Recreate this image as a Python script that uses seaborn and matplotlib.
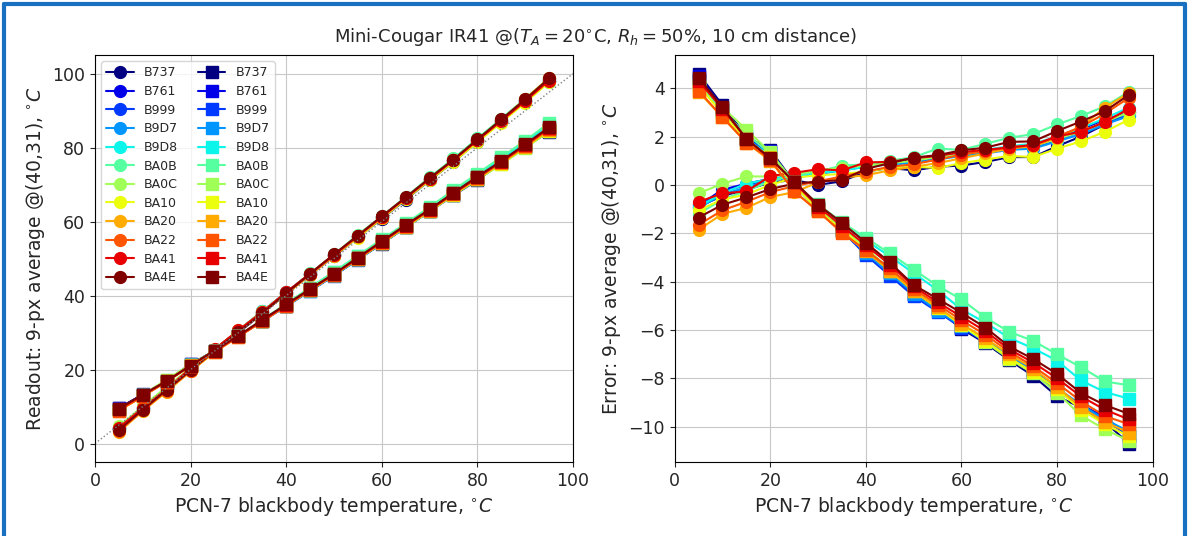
import matplotlib

matplotlib.use("Agg")
import matplotlib.pyplot as plt
import numpy as np
import pandas as pd
import seaborn as sns
from matplotlib.lines import Line2D

temps = [5, 10, 15, 20, 25, 30, 35, 40, 45, 50, 55, 60, 65, 70, 75, 80, 85, 90, 95]
sensors = ["B737", "B761", "B999", "B9D7", "B9D8", "BA0B",
           "BA0C", "BA10", "BA20", "BA22", "BA41", "BA4E"]

# error of the circle-marker series (readout - blackbody)
err_a = {
    "B737": [-0.9, -0.45, -0.2, 0.1, 0.2, 0.0, 0.15, 0.55, 0.7, 0.6, 0.75, 0.8, 0.95, 1.15, 1.15, 1.6, 2.0, 2.5, 3.0],
    "B761": [-0.85, -0.2, 0.05, 0.25, 0.4, 0.55, 0.75, 0.85, 0.95, 1.0, 1.15, 1.3, 1.4, 1.55, 1.6, 2.0, 2.3, 2.7, 3.0],
    "B999": [-0.8, -0.3, 0.0, 0.2, 0.35, 0.45, 0.65, 0.8, 0.9, 0.95, 1.1, 1.25, 1.35, 1.5, 1.55, 1.85, 2.2, 2.6, 2.9],
    "B9D7": [-0.95, -0.4, -0.1, 0.2, 0.3, 0.45, 0.6, 0.75, 0.85, 0.9, 1.05, 1.2, 1.3, 1.45, 1.5, 1.8, 2.1, 2.5, 2.85],
    "B9D8": [-0.9, -0.35, 0.05, 0.25, 0.35, 0.5, 0.6, 0.75, 0.9, 1.0, 1.2, 1.3, 1.45, 1.6, 1.7, 2.0, 2.35, 2.75, 3.2],
    "BA0B": [-1.2, -0.6, -0.25, 0.15, 0.4, 0.55, 0.8, 0.85, 1.0, 1.15, 1.5, 1.45, 1.7, 1.95, 2.1, 2.5, 2.85, 3.25, 3.85],
    "BA0C": [-0.35, 0.05, 0.35, 0.35, 0.45, 0.6, 0.7, 0.8, 0.9, 1.0, 1.15, 1.25, 1.4, 1.55, 1.6, 1.9, 2.2, 2.6, 3.0],
    "BA10": [-1.05, -0.6, -0.4, 0.0, 0.3, 0.4, 0.45, 0.55, 0.7, 0.75, 0.7, 0.9, 1.05, 1.2, 1.15, 1.5, 1.8, 2.2, 2.7],
    "BA20": [-1.85, -1.2, -0.95, -0.5, -0.3, 0.1, 0.3, 0.4, 0.6, 0.75, 0.9, 1.1, 1.3, 1.5, 1.6, 1.95, 2.4, 3.2, 3.8],
    "BA22": [-1.65, -1.05, -0.7, -0.3, -0.05, 0.15, 0.35, 0.55, 0.75, 0.85, 1.05, 1.25, 1.4, 1.55, 1.65, 2.0, 2.4, 2.95, 3.6],
    "BA41": [-0.7, -0.35, -0.27, 0.37, 0.5, 0.65, 0.6, 0.93, 0.95, 1.1, 1.2, 1.35, 1.45, 1.55, 1.65, 2.0, 2.2, 2.6, 3.15],
    "BA4E": [-1.35, -0.82, -0.52, -0.17, 0.05, 0.14, 0.2, 0.66, 0.9, 1.13, 1.23, 1.43, 1.54, 1.78, 1.8, 2.23, 2.62, 3.05, 3.72],
}

# error of the square-marker series
err_b = {
    "B737": [4.6, 3.3, 2.0, 1.45, 0.1, -0.95, -1.85, -2.75, -3.6, -4.5, -5.15, -5.95, -6.55, -7.25, -7.9, -8.75, -9.2, -9.8, -10.7],
    "B761": [4.5, 3.2, 1.95, 1.4, 0.05, -1.0, -1.85, -2.8, -3.6, -4.55, -5.15, -5.9, -6.4, -7.1, -7.75, -8.5, -9.1, -9.6, -10.4],
    "B999": [4.4, 3.1, 1.9, 1.3, 0.05, -1.0, -1.9, -2.9, -3.75, -4.6, -5.25, -5.9, -6.5, -7.15, -7.7, -8.5, -9.15, -9.7, -10.4],
    "B9D7": [4.3, 3.0, 1.85, 1.2, 0.0, -1.05, -1.85, -2.8, -3.65, -4.5, -5.2, -5.85, -6.45, -7.05, -7.65, -8.4, -9.1, -9.7, -10.2],
    "B9D8": [4.2, 3.0, 1.9, 1.2, 0.05, -0.9, -1.65, -2.3, -2.95, -3.65, -4.35, -5.15, -5.7, -6.33, -6.76, -7.27, -8.09, -8.57, -8.84],
    "BA0B": [4.1, 3.05, 2.1, 1.3, 0.1, -0.8, -1.55, -2.19, -2.83, -3.51, -4.17, -4.74, -5.49, -6.08, -6.45, -7.01, -7.54, -8.13, -8.29],
    "BA0C": [4.2, 3.2, 2.29, 1.35, 0.1, -0.95, -1.75, -2.6, -3.5, -4.35, -5.05, -5.8, -6.5, -7.2, -7.8, -8.6, -9.54, -10.11, -10.59],
    "BA10": [4.1, 2.95, 1.85, 1.15, 0.0, -1.05, -1.85, -2.7, -3.55, -4.4, -5.1, -5.8, -6.45, -7.15, -7.75, -8.45, -9.3, -9.9, -10.4],
    "BA20": [3.85, 2.8, 1.75, 1.0, -0.25, -1.1, -1.95, -2.75, -3.55, -4.4, -5.05, -5.75, -6.35, -7.0, -7.6, -8.35, -9.2, -9.8, -10.25],
    "BA22": [3.9, 2.8, 1.75, 1.05, -0.27, -1.09, -1.98, -2.7, -3.45, -4.3, -4.95, -5.6, -6.2, -6.9, -7.5, -8.2, -8.95, -9.56, -9.9],
    "BA41": [4.3, 3.15, 1.9, 1.1, 0.1, -0.9, -1.7, -2.5, -3.3, -4.2, -4.85, -5.45, -6.05, -6.8, -7.35, -8.0, -8.75, -9.3, -9.7],
    "BA4E": [4.44, 3.21, 1.91, 1.1, 0.14, -0.82, -1.57, -2.39, -3.21, -4.14, -4.71, -5.29, -5.9, -6.69, -7.2, -7.82, -8.61, -9.11, -9.47],
}


def main():
    sns.set_style("ticks", {"axes.grid": True, "grid.color": "#c8c8c8",
                            "axes.edgecolor": "black"})
    plt.rcParams["font.family"] = ["DejaVu Sans"]
    plt.rcParams["font.size"] = 12

    colors = plt.cm.jet(np.linspace(0, 1, len(sensors)))
    t = np.array(temps)

    fig = plt.figure(figsize=(11.92, 5.36), dpi=100)
    ax1 = fig.add_axes([0.0797, 0.138, 0.401, 0.759])
    ax2 = fig.add_axes([0.566, 0.138, 0.401, 0.759])

    for marker, errs in (("o", err_a), ("s", err_b)):
        for name, c in zip(sensors, colors):
            e = np.array(errs[name])
            df = pd.DataFrame({"T": t, "readout": t + e, "err": e})
            kw = dict(marker=marker, markersize=8.5, color=c, mec=c, mew=1,
                      linewidth=1.5, estimator=None)
            sns.lineplot(data=df, x="T", y="readout", ax=ax1, label=name, **kw)
            sns.lineplot(data=df, x="T", y="err", ax=ax2, legend=False, **kw)

    ax1.plot([0, 100], [0, 100], ":", color="gray", linewidth=1)

    for ax in (ax1, ax2):
        ax.set_xlim(0, 100)
        ax.set_xlabel(r"PCN-7 blackbody temperature, $^{\circ}C$", fontsize=13.5)
        ax.tick_params(labelsize=12.5)
        for s in ax.spines.values():
            s.set_visible(True)
            s.set_color("black")

    ax1.set_ylabel(r"Readout: 9-px average @(40,31), $^{\circ}C$", fontsize=13.5)
    ax2.set_ylabel(r"Error: 9-px average @(40,31), $^{\circ}C$", fontsize=13.5)
    ax1.legend(ncol=2, fontsize=9, loc="upper left", framealpha=0.8,
               columnspacing=1.6, handlelength=2.2, labelspacing=0.45)

    fig.suptitle(r"Mini-Cougar IR41 @($T_A = 20^{\circ}$C, $R_h = 50\%$, 10 cm distance)",
                 fontsize=13, y=0.952)

    blue = "#1a70c0"
    xl, xr, yt = 4 / 1192, 1185 / 1192, 1 - 4 / 536
    for xs, ys in (([xl, xl], [0, yt]), ([xl, xr], [yt, yt]), ([xr, xr], [yt, 0])):
        fig.add_artist(Line2D(xs, ys, transform=fig.transFigure, color=blue,
                              linewidth=3))

    plt.savefig("out.png", dpi=100)


if __name__ == "__main__":
    main()
